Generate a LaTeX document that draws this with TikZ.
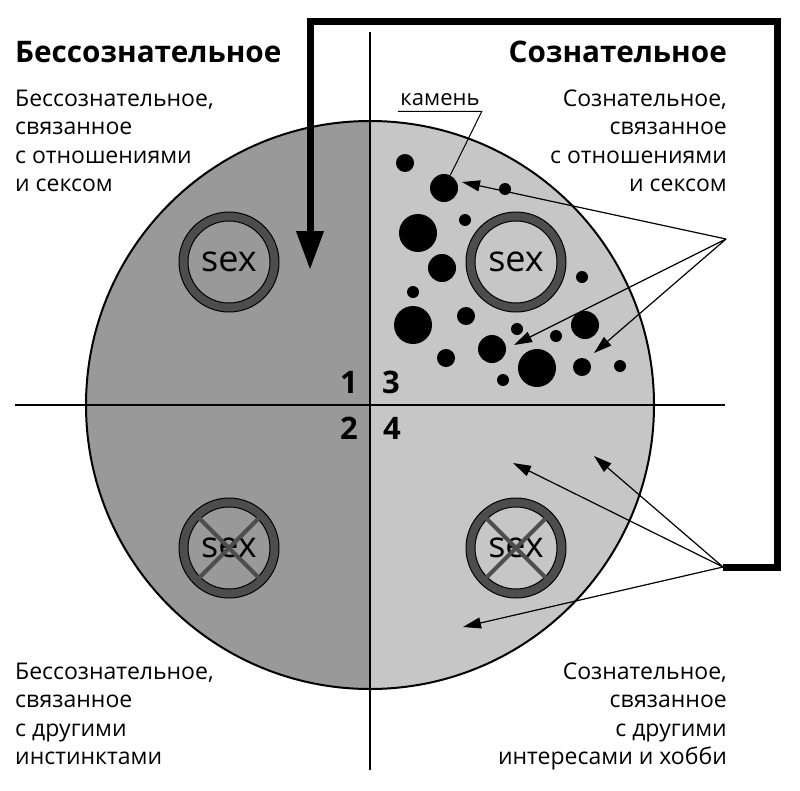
\documentclass[tikz,border=0pt]{standalone}
\usepackage{fontspec}
\setmainfont{Open Sans}
\usetikzlibrary{arrows.meta}
\definecolor{leftgray}{HTML}{999999}
\definecolor{rightgray}{HTML}{C6C6C6}
\definecolor{ringgray}{HTML}{4D4D4D}
\newcommand{\ringat}[1]{%
  \fill[ringgray,even odd rule] (#1) circle[radius=50pt] (#1) circle[radius=41pt];
  \draw[line width=1pt] (#1) circle[radius=50pt] (#1) circle[radius=41pt];}
\newcommand{\crossat}[1]{%
  \draw[ringgray,line width=4pt] (#1) ++(-30,-30) -- ++(60,60);
  \draw[ringgray,line width=4pt] (#1) ++(30,-30) -- ++(-60,60);}
\begin{document}
\begin{tikzpicture}[x=1pt,y=-1pt,
  body/.style={font=\fontsize{23}{28.5}\selectfont, inner sep=0pt},
  headline/.style={font=\bfseries\fontsize{29.7}{34}\selectfont, inner sep=0pt},
  num/.style={font=\bfseries\fontsize{31}{34}\selectfont, inner sep=0pt},
  sexlabel/.style={font=\fontsize{36}{40}\selectfont, inner sep=0pt},
  stone/.style={circle, fill=black, inner sep=0pt, minimum size=#1},
  ptr/.style={-{Triangle[length=18pt,width=11pt]}, line width=1.2pt},
  bigarrow/.style={line width=7pt, line join=miter, -{Triangle[length=39pt,width=26pt]}},
]
\useasboundingbox (0,0) rectangle (800,790);
\fill[white] (0,0) rectangle (800,790);
% circle halves
\begin{scope}
  \clip (370,405) circle[radius=284pt];
  \fill[leftgray] (80,115) rectangle (370,695);
  \fill[rightgray] (370,115) rectangle (660,695);
\end{scope}
\draw[line width=2pt] (370,405) circle[radius=284pt];
% axes
\draw[line width=1.4pt] (15,405) -- (725,405);
\draw[line width=1.4pt] (370,32) -- (370,770);
% headings
\node[headline, anchor=base west] (tl) at (15,62) {Бессознательное};
\node[headline, anchor=base east] (tr) at (727,62) {Сознательное};
% body texts
\node[body, anchor=north west, align=left] (q1) at (15,89.5)
  {Бессознательное,\\связанное\\с отношениями\\и сексом};
\node[body, anchor=north east, align=right] (q3) at (727,89.5)
  {Сознательное,\\связанное\\с отношениями\\и сексом};
\node[body, anchor=north west, align=left] (q2) at (15,662.5)
  {Бессознательное,\\связанное\\с другими\\инстинктами};
\node[body, anchor=north east, align=right] (q4) at (727,662.5)
  {Сознательное,\\связанное\\с другими\\интересами и хобби};
% numbers
\node[num] (n1) at (349,382) {1};
\node[num] (n3) at (391,382) {3};
\node[num] (n2) at (349,428) {2};
\node[num] (n4) at (392,428) {4};
% rings
\ringat{229,262}
\ringat{516,262}
\ringat{229,548}
\ringat{516,548}
\node[sexlabel] (s1) at (229,262) {sex};
\node[sexlabel] (s3) at (516,262) {sex};
\node[sexlabel] (s2) at (229,548) {sex};
\node[sexlabel] (s4) at (516,548) {sex};
\crossat{229,548}
\crossat{516,548}
% stones
\node[stone=18pt] (st1) at (405,163) {};
\node[stone=28pt] (kst) at (444,188) {};
\node[stone=12pt] (st3) at (505,189) {};
\node[stone=12pt] (st4) at (465,220) {};
\node[stone=38pt] (st5) at (418,233) {};
\node[stone=28pt] (st6) at (442,268) {};
\node[stone=12pt] (st7) at (582,277) {};
\node[stone=12pt] (st8) at (413,292) {};
\node[stone=38pt] (st9) at (413,325) {};
\node[stone=18pt] (st10) at (466,316) {};
\node[stone=12pt] (st11) at (517,329) {};
\node[stone=28pt] (st12) at (492,349) {};
\node[stone=12pt] (st13) at (556,336) {};
\node[stone=28pt] (st14) at (585,325) {};
\node[stone=18pt] (st15) at (446,358) {};
\node[stone=38pt] (st16) at (537,368) {};
\node[stone=12pt] (st17) at (503,380) {};
\node[stone=18pt] (st18) at (582,367) {};
\node[stone=12pt] (st19) at (620,366) {};
% kamen label
\node[font=\fontsize{22}{26}\selectfont, anchor=base, inner xsep=2pt, inner ysep=6pt] (kam) at (440,105) {камень};
\draw[line width=1pt] (kam.south west) -- (kam.south east) -- (kst);
% pointer arrows
\coordinate (hubA) at (726,239);
\coordinate (hubB) at (723,567);
\coordinate (a1) at (462,182);
\coordinate (a2) at (514,345);
\coordinate (a3) at (594,353);
\coordinate (b1) at (513,463);
\coordinate (b2) at (594,456);
\coordinate (b3) at (463,627);
\draw[ptr] (hubA) -- (a1);
\draw[ptr] (hubA) -- (a2);
\draw[ptr] (hubA) -- (a3);
\draw[ptr] (hubB) -- (b1);
\draw[ptr] (hubB) -- (b2);
\draw[ptr] (hubB) -- (b3);
% big feedback arrow
\coordinate (c1) at (777,567);
\coordinate (c2) at (777,21);
\coordinate (c3) at (310,21);
\coordinate (bigtip) at (310,270);
\draw[bigarrow] (hubB) -- (c1) -- (c2) -- (c3) -- (bigtip);
\end{tikzpicture}
\end{document}
